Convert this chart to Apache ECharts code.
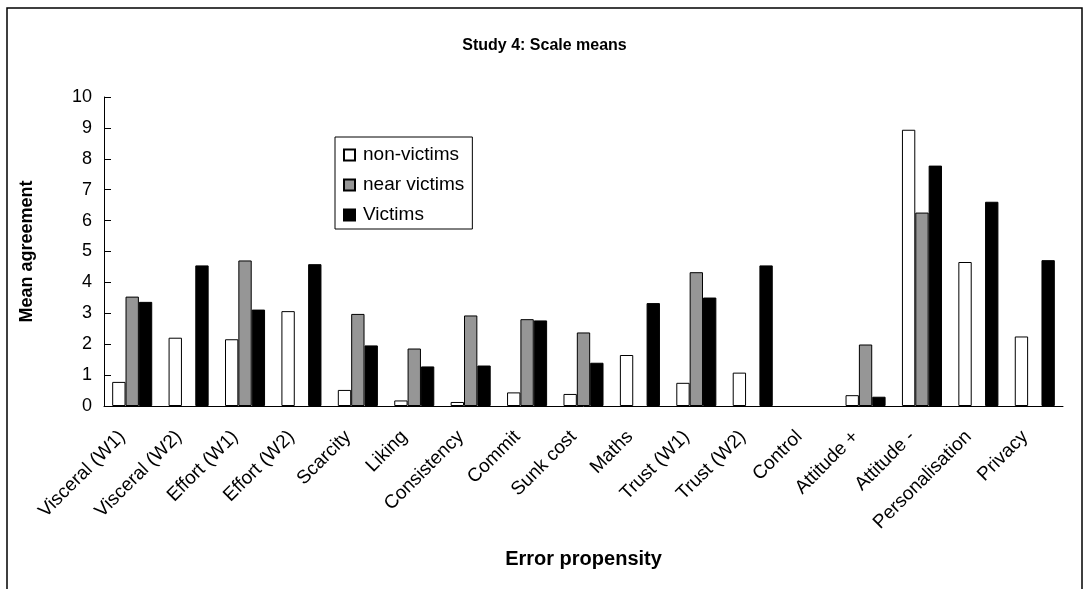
<!DOCTYPE html>
<html>
<head>
<meta charset="utf-8">
<script src="https://cdn.jsdelivr.net/npm/echarts@6/dist/echarts.min.js"></script>
<style>html,body{margin:0;padding:0;background:#fff}#c{width:1089px;height:589px}</style>
</head>
<body>
<div id="c"></div>
<script>
const categories = ['Visceral (W1)','Visceral (W2)','Effort (W1)','Effort (W2)','Scarcity','Liking','Consistency','Commit','Sunk cost','Maths','Trust (W1)','Trust (W2)','Control','Attitude +','Attitude -','Personalisation','Privacy'];
const nonVictims  = [0.78, 2.21, 2.16, 3.07, 0.52, 0.18, 0.13, 0.44, 0.39, 1.65, 0.75, 1.08, null, 0.35, 8.94, 4.66, 2.25];
const nearVictims = [3.54, null, 4.71, null, 2.98, 1.86, 2.93, 2.81, 2.38, null, 4.33, null, null, 1.99, 6.26, null, null];
const victims     = [3.37, 4.55, 3.12, 4.59, 1.96, 1.28, 1.31, 2.77, 1.40, 3.33, 3.51, 4.55, null, 0.30, 7.78, 6.61, 4.72];
const yTicks = [0,1,2,3,4,5,6,7,8,9,10];

const FONT = "'Liberation Sans', Arial, sans-serif";
const chart = echarts.init(document.getElementById('c'));
chart.setOption({
  animation: false,
  backgroundColor: '#fff',
  title: {
    text: 'Study 4: Scale means', left: 'center', top: 33,
    textStyle: {fontFamily: FONT, fontSize: 16, fontWeight: 'bold', color: '#000'}
  },
  graphic: [{
    type: 'rect', shape: {x: 7, y: 8, width: 1075, height: 620},
    style: {fill: 'none', stroke: '#000', lineWidth: 1.5}, silent: true, z: -1
  }],
  legend: {
    orient: 'vertical', left: 335, top: 137,
    padding: [7, 8, 3, 8], itemGap: 8,
    itemWidth: 11, itemHeight: 11, icon: 'rect',
    backgroundColor: '#fff', borderColor: '#000', borderWidth: 1,
    textStyle: {fontFamily: FONT, fontSize: 19, color: '#000', lineHeight: 22, padding: [0,0,0,3]},
    data: ['non-victims','near victims','Victims']
  },
  grid: {left: 104, right: 26, top: 97, bottom: 183},
  xAxis: {
    type: 'category', data: categories,
    name: 'Error propensity', nameLocation: 'middle', nameGap: 143,
    nameTextStyle: {fontFamily: FONT, fontSize: 20, fontWeight: 'bold', color: '#000'},
    axisLine: {lineStyle: {color: '#000', width: 1}},
    axisTick: {inside: true, length: 6, lineStyle: {color: '#000'}},
    axisLabel: {rotate: 45, interval: 0, fontFamily: FONT, fontSize: 19, color: '#000', margin: 18,
      padding: [0, 14, 0, 0]}
  },
  yAxis: {
    type: 'value', min: 0, max: 10, interval: 1,
    name: 'Mean agreement', nameLocation: 'middle', nameGap: 68,
    nameTextStyle: {fontFamily: FONT, fontSize: 18, fontWeight: 'bold', color: '#000'},
    axisLine: {show: true, lineStyle: {color: '#000', width: 1}},
    axisTick: {show: true, inside: true, length: 7, lineStyle: {color: '#000'}},
    axisLabel: {fontFamily: FONT, fontSize: 18, color: '#000', margin: 12,
      formatter: v => yTicks.includes(v) ? String(v) : ''},
    splitLine: {show: false}
  },
  series: [
    {name: 'non-victims', type: 'bar', data: nonVictims, barGap: '0%', barCategoryGap: '29%',
     itemStyle: {color: '#fff', borderColor: '#000', borderWidth: 1}},
    {name: 'near victims', type: 'bar', data: nearVictims,
     itemStyle: {color: '#969696', borderColor: '#000', borderWidth: 1}},
    {name: 'Victims', type: 'bar', data: victims,
     itemStyle: {color: '#000', borderColor: '#000', borderWidth: 1}}
  ]
});
</script>
</body>
</html>
